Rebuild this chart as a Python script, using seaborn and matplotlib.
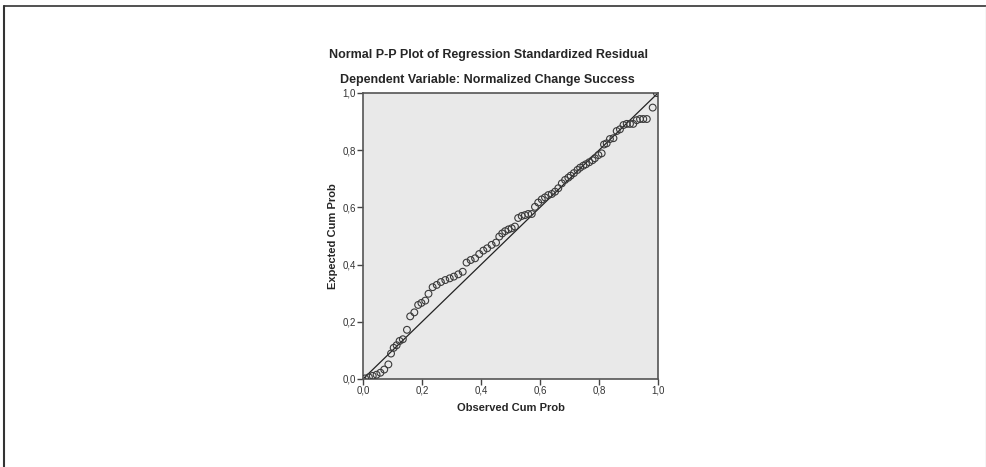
import numpy as np
import pandas as pd
import seaborn as sns
import matplotlib.pyplot as plt
from matplotlib.lines import Line2D
from matplotlib.ticker import FuncFormatter

sns.set_theme(style="white")
plt.rcParams['font.family'] = ['Liberation Sans', 'DejaVu Sans']

title = "Normal P-P Plot of Regression Standardized Residual"
subtitle = "Dependent Variable: Normalized Change Success"
xlabel = "Observed Cum Prob"
ylabel = "Expected Cum Prob"
ticks = [0.0, 0.2, 0.4, 0.6, 0.8, 1.0]

observed = [0.007, 0.020, 0.033, 0.046, 0.059, 0.072, 0.086, 0.095, 0.104, 0.114,
            0.124, 0.135, 0.149, 0.160, 0.174, 0.187, 0.198, 0.211, 0.222, 0.236,
            0.250, 0.264, 0.279, 0.294, 0.308, 0.323, 0.338, 0.351, 0.365, 0.380,
            0.394, 0.408, 0.421, 0.436, 0.451, 0.462, 0.472, 0.482, 0.493, 0.504,
            0.515, 0.526, 0.538, 0.549, 0.560, 0.572, 0.583, 0.594, 0.606, 0.617,
            0.628, 0.640, 0.651, 0.662, 0.674, 0.685, 0.696, 0.704, 0.715, 0.727,
            0.736, 0.747, 0.756, 0.767, 0.778, 0.786, 0.798, 0.809, 0.817, 0.826,
            0.837, 0.849, 0.860, 0.871, 0.883, 0.894, 0.905, 0.916, 0.928, 0.939,
            0.950, 0.962, 0.982, 0.996]
expected = [0.002, 0.006, 0.011, 0.015, 0.022, 0.033, 0.051, 0.089, 0.109, 0.118,
            0.133, 0.139, 0.172, 0.219, 0.233, 0.259, 0.266, 0.274, 0.298, 0.321,
            0.329, 0.339, 0.346, 0.352, 0.358, 0.366, 0.375, 0.407, 0.416, 0.422,
            0.437, 0.449, 0.457, 0.469, 0.477, 0.498, 0.509, 0.517, 0.523, 0.527,
            0.533, 0.563, 0.570, 0.573, 0.577, 0.577, 0.602, 0.617, 0.628, 0.635,
            0.643, 0.647, 0.655, 0.667, 0.684, 0.696, 0.704, 0.711, 0.720, 0.731,
            0.739, 0.746, 0.751, 0.758, 0.765, 0.772, 0.783, 0.789, 0.820, 0.824,
            0.839, 0.842, 0.867, 0.873, 0.888, 0.892, 0.892, 0.892, 0.905, 0.909,
            0.909, 0.909, 0.949, 1.000]

df = pd.DataFrame({"observed": observed, "expected": expected})

fig = plt.figure(figsize=(9.87, 4.67), dpi=100)
ax = fig.add_axes([363 / 987, 1 - 379 / 467, 295 / 987, 286 / 467])
ax.set_facecolor("#e9e9e9")

ax.axline((0, 0), slope=1, color="#222222", lw=0.9, zorder=2)
sns.scatterplot(data=df, x="observed", y="expected", ax=ax, marker="o", s=24,
                facecolor="none", edgecolor="#3a3a3a", linewidth=0.8, zorder=3)

ax.set_xlim(0, 1)
ax.set_ylim(0, 1)
ax.set_xticks(ticks)
ax.set_yticks(ticks)
comma = FuncFormatter(lambda v, p: f"{v:.1f}".replace(".", ","))
ax.xaxis.set_major_formatter(comma)
ax.yaxis.set_major_formatter(comma)
ax.tick_params(axis="both", direction="out", length=4, width=1, color="#444444",
               labelsize=7, labelcolor="#333333", pad=1, bottom=True, left=True)
for s in ax.spines.values():
    s.set_color("#555555")
    s.set_linewidth(1.2)

ax.set_xlabel(xlabel, fontsize=8, fontweight="bold", labelpad=5)
ax.set_ylabel(ylabel, fontsize=8, fontweight="bold", labelpad=3)
fig.text(0.495, 1 - 55 / 467, title, ha="center", va="center", fontsize=9, fontweight="bold")
fig.text(0.494, 1 - 80 / 467, subtitle, ha="center", va="center", fontsize=9, fontweight="bold")

# outer frame of the output window
fig.add_artist(Line2D([4 / 987, 4 / 987], [0, 1 - 6 / 467], transform=fig.transFigure, color="#333333", lw=1.5))
fig.add_artist(Line2D([4 / 987, 986 / 987], [1 - 6 / 467, 1 - 6 / 467], transform=fig.transFigure, color="#333333", lw=1.2))
fig.add_artist(Line2D([986 / 987, 986 / 987], [0, 1 - 6 / 467], transform=fig.transFigure, color="#cccccc", lw=1))

fig.savefig("out.png", dpi=100)
